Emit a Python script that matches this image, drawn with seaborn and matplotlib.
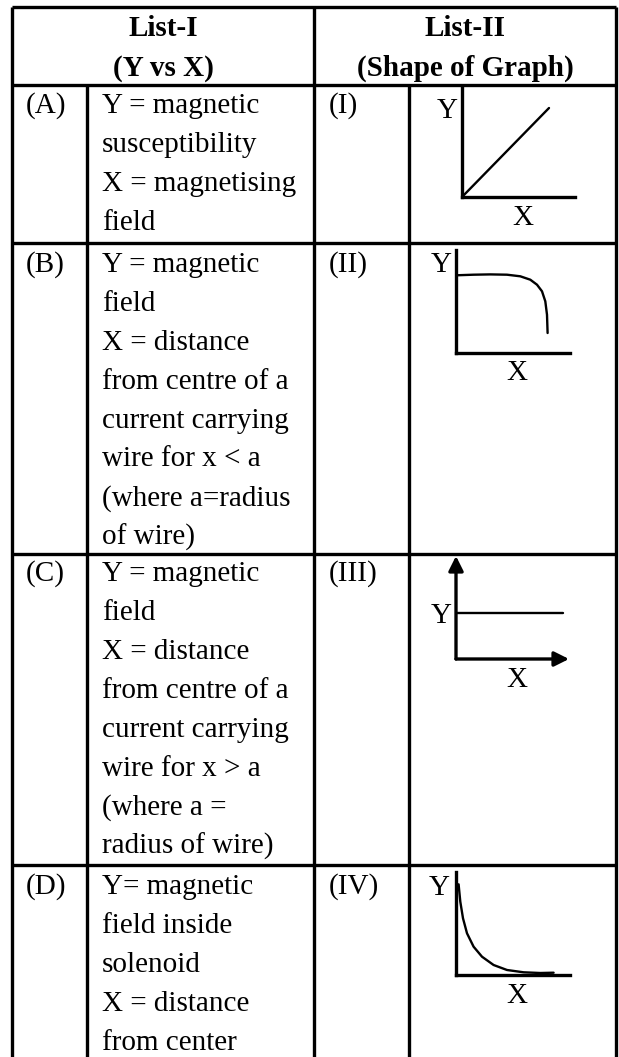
import matplotlib
matplotlib.use("Agg")
import matplotlib.pyplot as plt
import seaborn as sns

# --- data ---
header_left = ["List-I", "(Y vs X)"]
header_right = ["List-II", "(Shape of Graph)"]

row_labels = ["(A)", "(B)", "(C)", "(D)"]
graph_labels = ["(I)", "(II)", "(III)", "(IV)"]

desc_a = ["Y = magnetic", "susceptibility", "X = magnetising", "field"]
desc_b = ["Y = magnetic", "field", "X = distance", "from centre of a",
          "current carrying", "wire for x < a", "(where a=radius", "of wire)"]
desc_c = ["Y = magnetic", "field", "X = distance", "from centre of a",
          "current carrying", "wire for x > a", "(where a =", "radius of wire)"]
desc_d = ["Y= magnetic", "field inside", "solenoid", "X = distance", "from center"]

# graph (I): straight line through origin
line_x = [0, 87]
line_y = [0, 89]
# graph (II): flat then drops
curve2_x = [0, 17.6, 34.3, 51, 64.3, 74.3, 81, 86, 89.3, 91, 91.6]
curve2_y = [77.7, 78.3, 78.6, 78.3, 76.7, 73.3, 68.3, 61.7, 51.7, 38.3, 20]
# graph (III): constant
const_x = [0, 107]
const_y = [46, 46]
# graph (IV): decaying curve
curve4_x = [2.6, 4.3, 7, 11, 17.6, 26, 37.6, 51, 67.6, 84.3, 97.6]
curve4_y = [90.7, 73.3, 56.7, 41.7, 28.3, 18.3, 10, 5, 2.7, 2, 2.3]

# --- layout (pixels) ---
W, H = 619, 1057
col_x = [12, 87, 314, 409, 616]
row_y = [7, 85, 243, 554, 865]
first_base = [113, 272, 581, 894]
line_gap = 38.9
lw = 2.4

sns.set_style("white")
plt.rcParams['font.family'] = ['Liberation Serif', 'DejaVu Serif']
plt.rcParams['text.color'] = 'black'
fs = 21

fig = plt.figure(figsize=(W / 100, H / 100), dpi=100)
ax = fig.add_axes([0, 0, 1, 1])
ax.set_xlim(0, W)
ax.set_ylim(H, 0)
ax.axis("off")

# table grid
ax.hlines(row_y, col_x[0], col_x[-1], color="black", lw=lw)
ax.vlines([col_x[0], col_x[2], col_x[-1]], row_y[0], H, color="black", lw=lw)
ax.vlines([col_x[1], col_x[3]], row_y[1], H, color="black", lw=lw)

# header
for i, t in enumerate(header_left):
    ax.text((col_x[0] + col_x[2]) / 2, [36, 76][i], t, ha="center", va="baseline",
            fontsize=fs, fontweight="bold", color="black")
for i, t in enumerate(header_right):
    ax.text((col_x[2] + col_x[-1]) / 2, [36, 76][i], t, ha="center", va="baseline",
            fontsize=fs, fontweight="bold", color="black")

# rows
for r, lines in enumerate([desc_a, desc_b, desc_c, desc_d]):
    ax.text(26, first_base[r], row_labels[r], va="baseline", fontsize=fs, color="black")
    ax.text(329, first_base[r], graph_labels[r], va="baseline", fontsize=fs, color="black")
    for k, t in enumerate(lines):
        ax.text(102, first_base[r] + k * line_gap, t, va="baseline", fontsize=fs,
                color="black")


def mini_axes(x0, y0, w, h):
    a = fig.add_axes([x0 / W, 1 - y0 / H, w / W, h / H])
    a.set_xlim(0, w)
    a.set_ylim(0, h)
    a.set_xticks([])
    a.set_yticks([])
    a.patch.set_alpha(0)
    for s in ["top", "right"]:
        a.spines[s].set_visible(False)
    for s in ["left", "bottom"]:
        a.spines[s].set_linewidth(lw)
        a.spines[s].set_color("black")
    return a


# graph I
g1 = mini_axes(462, 197, 113, 109)
sns.lineplot(x=line_x, y=line_y, ax=g1, color="black", lw=1.7, estimator=None, sort=False)
# graph II
g2 = mini_axes(456, 353, 114, 103)
sns.lineplot(x=curve2_x, y=curve2_y, ax=g2, color="black", lw=1.7, estimator=None, sort=False)
# graph III with arrow axes
g3 = mini_axes(456, 659, 113, 103)
g3.spines["left"].set_visible(False)
g3.spines["bottom"].set_visible(False)
arrow = dict(arrowstyle="-|>", lw=lw, color="black", mutation_scale=22, shrinkA=0, shrinkB=0)
g3.annotate("", xy=(1, 0), xytext=(0, 0), xycoords="axes fraction", arrowprops=arrow)
g3.annotate("", xy=(0, 1), xytext=(0, 0), xycoords="axes fraction", arrowprops=arrow)
sns.lineplot(x=const_x, y=const_y, ax=g3, color="black", lw=1.7, estimator=None, sort=False)
# graph IV
g4 = mini_axes(456, 975, 114, 103)
sns.lineplot(x=curve4_x, y=curve4_y, ax=g4, color="black", lw=1.7, estimator=None, sort=False)

# axis letters
for yx, yy, xx, xy in [(458, 118, 523, 225), (452, 272, 517, 380),
                       (452, 623, 517, 687), (450, 895, 517, 1003)]:
    ax.text(yx, yy, "Y", ha="right", va="baseline", fontsize=fs, color="black")
    ax.text(xx, xy, "X", ha="center", va="baseline", fontsize=fs, color="black")

fig.savefig("out.png", dpi=100)
